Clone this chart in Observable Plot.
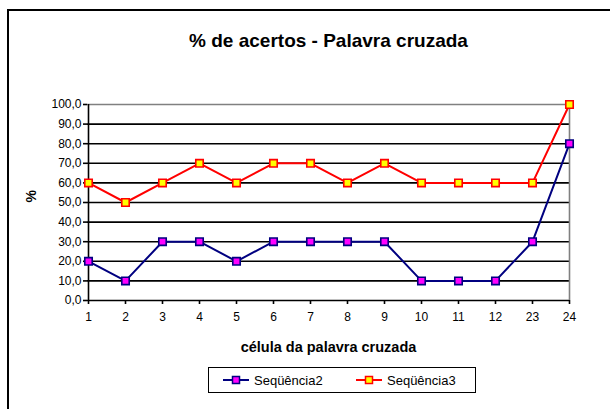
<!DOCTYPE html>
<html>
<head>
<meta charset="utf-8">
<script src="https://cdn.jsdelivr.net/npm/d3@7"></script>
<script src="https://cdn.jsdelivr.net/npm/@observablehq/plot@0.6"></script>
<style>
  html, body { margin: 0; padding: 0; background: #fff; }
  #wrap { position: relative; width: 610px; height: 409px; overflow: hidden; font-family: "Liberation Sans", Arial, sans-serif; }
  #frame { position: absolute; left: 7px; top: 9px; width: 700px; height: 500px; border: 2px solid #000; box-sizing: border-box; pointer-events: none; }
  #legend { position: absolute; left: 208px; top: 367px; width: 268px; height: 26px; border: 1px solid #000; box-sizing: border-box; background: #fff; font-size: 13px; color: #000; }
  .item { display: flex; align-items: center; position: absolute; top: 4px; }
  .item svg { margin-right: 5px; }
</style>
</head>
<body>
<div id="wrap">
  <div id="chart"></div>
  <div id="frame"></div>
  <div id="legend"></div>
</div>
<script>
const categories = ["1","2","3","4","5","6","7","8","9","10","11","12","23","24"];
const seq2 = [20,10,30,30,20,30,30,30,30,10,10,10,30,80];
const seq3 = [60,50,60,70,60,70,70,60,70,60,60,60,60,100];
const yTicks = [0,10,20,30,40,50,60,70,80,90,100];
const seriesNames = ["Seqüência2","Seqüência3"];
const titleText = "% de acertos - Palavra cruzada";
const xLabel = "célula da palavra cruzada";
const yLabel = "%";

const rows2 = categories.map((c, i) => ({cat: c, v: seq2[i]}));
const rows3 = categories.map((c, i) => ({cat: c, v: seq3[i]}));
const fmt = d => d.toFixed(1).replace(".", ",");

const chart = Plot.plot({
  width: 610,
  height: 409,
  marginLeft: 87,
  marginRight: 41,
  marginTop: 104,
  marginBottom: 109,
  style: {fontFamily: "Liberation Sans, Arial, sans-serif", fontSize: "12px", background: "transparent", overflow: "visible"},
  x: {type: "point", domain: categories, padding: 0},
  y: {domain: [0, 100]},
  marks: [
    Plot.ruleY(yTicks.filter(d => d < 100), {stroke: "#000", strokeWidth: 1.6}),
    Plot.ruleY([100], {stroke: "#808080", strokeWidth: 1.6}),
    Plot.ruleX([categories[categories.length - 1]], {y1: 0, y2: 100, stroke: "#808080", strokeWidth: 1.6}),
    Plot.ruleX([categories[0]], {y1: 0, y2: 100, stroke: "#000", strokeWidth: 1.6}),
    Plot.axisY({ticks: yTicks, tickFormat: fmt, tickSize: 4, tickPadding: 2, label: null, strokeWidth: 1.6, fill: "#000"}),
    Plot.axisX({tickSize: 4, tickPadding: 8, label: null, strokeWidth: 1.6, fill: "#000"}),
    Plot.line(rows2, {x: "cat", y: "v", stroke: "#000080", strokeWidth: 2}),
    Plot.line(rows3, {x: "cat", y: "v", stroke: "#ff0000", strokeWidth: 2}),
    Plot.dot(rows2, {x: "cat", y: "v", symbol: "square", r: 4.2, fill: "#ff00ff", stroke: "#000080", strokeWidth: 1.6}),
    Plot.dot(rows3, {x: "cat", y: "v", symbol: "square", r: 4.2, fill: "#ffff00", stroke: "#ff0000", strokeWidth: 1.6}),
    Plot.text([titleText], {frameAnchor: "top", lineAnchor: "middle", dy: -64, fontSize: 19, fontWeight: "bold", fill: "#000"}),
    Plot.text([xLabel], {frameAnchor: "bottom", lineAnchor: "middle", dy: 47, fontSize: 14.5, fontWeight: "bold", fill: "#000"}),
    Plot.text([yLabel], {frameAnchor: "left", dx: -56, rotate: -90, fontSize: 14, fontWeight: "bold", fill: "#000"})
  ]
});
document.getElementById("chart").appendChild(chart);

const legend = document.getElementById("legend");
const styles = [{stroke: "#000080", fill: "#ff00ff"}, {stroke: "#ff0000", fill: "#ffff00"}];
const lefts = [14, 147];
seriesNames.forEach((name, i) => {
  const item = document.createElement("div");
  item.className = "item";
  item.style.left = lefts[i] + "px";
  const s = styles[i];
  item.innerHTML = `<svg width="26" height="16"><line x1="0" y1="8" x2="26" y2="8" stroke="${s.stroke}" stroke-width="2"/><rect x="9.5" y="4.5" width="7" height="7" fill="${s.fill}" stroke="${s.stroke}" stroke-width="1.5"/></svg><span>${name}</span>`;
  legend.appendChild(item);
});
</script>
</body>
</html>
